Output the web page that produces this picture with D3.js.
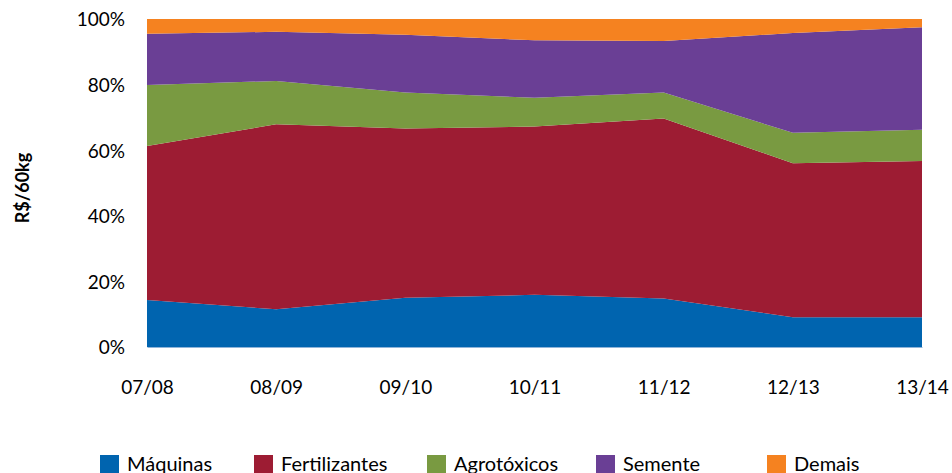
<!DOCTYPE html>
<html>
<head>
<meta charset="utf-8">
<script src="https://cdn.jsdelivr.net/npm/d3@7"></script>
<style>
  body { margin: 0; background: #fff; }
  svg text { font-family: Lato, "Open Sans", sans-serif; fill: #000; }
</style>
</head>
<body>
<svg id="chart" width="952" height="473"></svg>
<script>
// safras
const safras = ['07/08', '08/09', '09/10', '10/11', '11/12', '12/13', '13/14'];

// participação de cada item no custo (%)
const maquinas      = [14.3, 11.5, 15.0, 15.9, 14.8,  9.1,  9.1];
const fertilizantes = [47.0, 56.4, 51.6, 51.3, 54.9, 46.9, 47.6];
const agrotoxicos   = [18.6, 13.2, 11.0,  8.8,  7.9,  9.3,  9.5];
const semente       = [15.6, 15.0, 17.6, 17.5, 15.7, 30.4, 31.3];
const demais        = [ 4.5,  3.9,  4.8,  6.5,  6.7,  4.3,  2.5];

const seriesNames = ['Máquinas', 'Fertilizantes', 'Agrotóxicos', 'Semente', 'Demais'];
const seriesValues = [maquinas, fertilizantes, agrotoxicos, semente, demais];
const colors = ['#0064AF', '#9D1C33', '#799A41', '#6A3F95', '#F58220'];

const yTicks = [0, 0.2, 0.4, 0.6, 0.8, 1];

const rows = safras.map((s, i) => {
    const r = {safra: s};
    seriesNames.forEach((n, k) => { r[n] = seriesValues[k][i]; });
    return r;
});

const svg = d3.select('#chart');
const margin = {left: 147, right: 30, top: 19, bottom: 126};
const W = 952, H = 473;

const x = d3.scalePoint()
    .domain(safras)
    .range([margin.left, W - margin.right]);

const y = d3.scaleLinear()
    .domain([0, 1])
    .range([H - margin.bottom, margin.top]);

const stack = d3.stack()
    .keys(seriesNames)
    .offset(d3.stackOffsetExpand);

const layers = stack(rows);

const area = d3.area()
    .x(d => x(d.data.safra))
    .y0(d => y(d[0]))
    .y1(d => y(d[1]));

svg.append('g')
    .attr('class', 'areas')
    .selectAll('path')
    .data(layers)
    .enter().append('path')
    .attr('d', area)
    .attr('fill', (d, i) => colors[i]);

// eixo Y
const yAxis = svg.append('g')
    .attr('transform', `translate(${margin.left},0)`)
    .call(d3.axisLeft(y).tickValues(yTicks).tickFormat(d3.format('.0%')).tickSize(0).tickPadding(22));
yAxis.select('.domain').remove();
yAxis.selectAll('text').attr('font-size', 19).attr('dy', '0.36em');

// eixo X
const xAxis = svg.append('g')
    .attr('transform', `translate(0,${H - margin.bottom})`)
    .call(d3.axisBottom(x).tickSize(0).tickPadding(34));
xAxis.select('.domain').attr('stroke', '#8fb4d9').attr('stroke-width', 1);
xAxis.selectAll('text').attr('font-size', 19);

// titulo do eixo
svg.append('text')
    .attr('transform', 'translate(29,188) rotate(-90)')
    .attr('text-anchor', 'middle')
    .attr('font-size', 18)
    .attr('font-weight', 'bold')
    .text('R$/60kg');

// legenda
const legendX = [100, 254, 427, 596, 767];
const legend = svg.append('g')
    .selectAll('g')
    .data(seriesNames)
    .enter().append('g')
    .attr('transform', (d, i) => `translate(${legendX[i]},455)`);

legend.append('rect')
    .attr('width', 19)
    .attr('height', 19)
    .attr('fill', (d, i) => colors[i]);

legend.append('text')
    .attr('x', 27)
    .attr('y', 16)
    .attr('font-size', 20)
    .text(d => d);
</script>
</body>
</html>
